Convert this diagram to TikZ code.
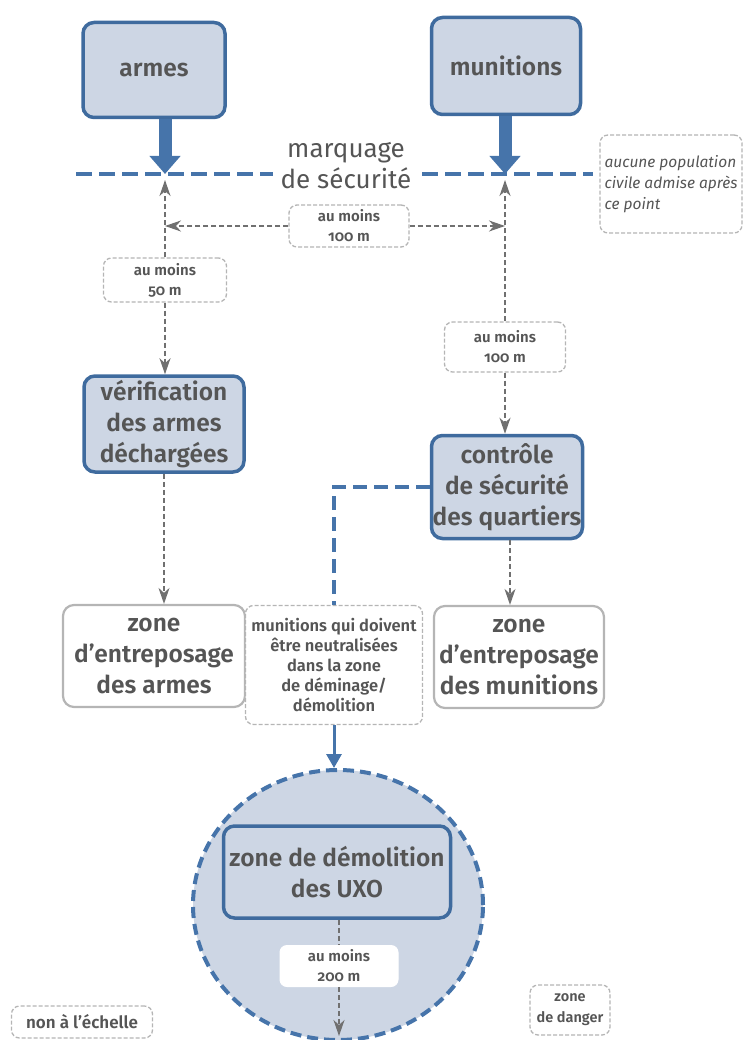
\documentclass[tikz,border=0pt]{standalone}
\usepackage{fontspec}
\setmainfont{Fira Sans}[BoldFont={* SemiBold}, Numbers=OldStyle]
\usetikzlibrary{arrows.meta,shapes.geometric}
\definecolor{boxfill}{HTML}{CDD6E4}
\definecolor{boxblue}{HTML}{3F6B9E}
\definecolor{lineblue}{HTML}{4674AA}
\definecolor{txt}{HTML}{555555}
\definecolor{arrgray}{HTML}{707070}
\definecolor{lblgray}{HTML}{B5B5B5}
\tikzset{
  bluebox/.style={draw=boxblue, line width=3.5pt, fill=boxfill, rounded corners=11pt,
    text=txt, font=\fontsize{24.5}{31}\selectfont\bfseries, align=center, inner sep=0pt},
  graybox/.style={draw=lblgray, line width=2.2pt, fill=white, rounded corners=11pt,
    text=txt, font=\fontsize{24.5}{31}\selectfont\bfseries, align=center, inner sep=0pt},
  lbl/.style={draw=lblgray, dashed, dash pattern=on 4pt off 2pt, line width=1.3pt, fill=white,
    rounded corners=8pt, text=txt, font=\fontsize{15}{20}\selectfont\bfseries, align=center,
    inner sep=0pt},
  grayarrow/.style={draw=arrgray, line width=1.6pt, dash pattern=on 5pt off 3pt,
    -{Stealth[length=16pt,width=11pt,inset=5pt,fill=arrgray]}},
  grayline/.style={draw=arrgray, line width=1.6pt, dash pattern=on 5pt off 3pt},
  thickarrow/.style={draw=lineblue, line width=13pt,
    -{Triangle[length=18pt,width=30pt,fill=lineblue]}},
  bluedash/.style={draw=lineblue, line width=4.5pt, dash pattern=on 16pt off 7pt},
}
\begin{document}
\begin{tikzpicture}[x=1pt,y=-1pt]
\useasboundingbox (0,0) rectangle (746,1040);

% danger zone around the demolition area
\node (zone) [ellipse, draw=lineblue, line width=4pt, dash pattern=on 11pt off 6pt,
  fill=boxfill, minimum width=290pt, minimum height=270pt] at (338,905) {};

% main blue boxes
\node (armes) [bluebox, minimum width=142pt, minimum height=95pt] at (154,70) {armes};
\node (munitions) [bluebox, minimum width=149pt, minimum height=97pt] at (506,66) {munitions};
\node (verif) [bluebox, minimum width=160pt, minimum height=96pt] at (164,424)
  {vérification\\des armes\\déchargées};
\node (controle) [bluebox, minimum width=151pt, minimum height=103pt] at (507,487)
  {contrôle\\de sécurité\\des quartiers};
\node (demol) [bluebox, minimum width=227pt, minimum height=92pt] at (337,872)
  {zone de démolition\\des UXO};

% storage areas
\node (zarmes) [graybox, minimum width=182pt, minimum height=102pt] at (154,656)
  {zone\\d’entreposage\\des armes};
\node (zmun) [graybox, minimum width=170pt, minimum height=102pt] at (519,657)
  {zone\\d’entreposage\\des munitions};

% safety marking line
\coordinate (A) at (165,174);
\coordinate (B) at (505,174);
\draw[bluedash] (76,174) -- (273,174);
\draw[bluedash] (422,174) -- (593,174);
\node (marq) [text=txt, font=\fontsize{26}{31}\selectfont, align=center] at (346,166)
  {marquage\\de sécurité};
\draw[thickarrow] (armes.south -| A) -- (A);
\draw[thickarrow] (munitions.south -| B) -- (B);

\node (aucune) [lbl, minimum width=142pt, minimum height=98pt, align=left,
  font=\fontsize{15.5}{21}\selectfont\itshape] at (671,184)
  {aucune population\\civile admise après\\ce point};

% distance labels
\node (l50) [lbl, minimum width=123pt, minimum height=44pt] at (165,280) {au moins\\50 m};
\node (l100a) [lbl, minimum width=120pt, minimum height=42pt] at (349,226) {au moins\\100 m};
\node (l100b) [lbl, minimum width=121pt, minimum height=50pt] at (505,347) {au moins\\100 m};

\coordinate (Aup) at (165,180);
\coordinate (Bup) at (505,180);
\coordinate (Aside) at (165,226);
\coordinate (Bside) at (505,226);
\draw[grayarrow] (l50) -- (Aup);
\draw[grayarrow] (l50) -- (verif.north -| A);
\draw[grayarrow] (l100a) -- (Aside);
\draw[grayarrow] (l100a) -- (Bside);
\draw[grayarrow] (l100b) -- (Bup);
\draw[grayarrow] (l100b) -- (controle.north -| B);

\draw[grayarrow] (verif.south) -- (zarmes.north -| verif.south);
\coordinate (C) at (510,0);
\draw[grayarrow] (controle.south -| C) -- (zmun.north -| C);

% ammunition to be destroyed
\node (munqui) [lbl, minimum width=177pt, minimum height=119pt,
  font=\fontsize{16.5}{20.2}\selectfont\bfseries] at (334,665)
  {munitions qui doivent\\être neutralisées\\dans la zone\\de déminage/\\démolition};
\draw[bluedash, line width=4pt, dash pattern=on 14pt off 7pt]
  (controle.west) -| (munqui.north);
\draw[draw=lineblue, line width=3pt, -{Triangle[length=14pt,width=15pt,fill=lineblue]}]
  (munqui.south) -- (munqui.south |- zone.north);

% distance from the demolition area
\node (l200) [draw=white, line width=1pt, fill=white, rounded corners=7pt, text=txt,
  font=\fontsize{15}{20}\selectfont\bfseries, align=center, minimum width=118pt,
  minimum height=41pt, inner sep=0pt] at (339,966) {au moins\\200 m};
\coordinate (D) at (339,1036);
\draw[grayline] (demol.south -| l200) -- (l200.north);
\draw[grayarrow] (l200.south) -- (D);

% legend notes
\node (echelle) [lbl, minimum width=141pt, minimum height=32pt,
  font=\fontsize{17}{20}\selectfont\bfseries] at (82,1022) {non à l’échelle};
\node (danger) [lbl, minimum width=80pt, minimum height=50pt,
  font=\fontsize{14.5}{21}\selectfont\bfseries] at (570,1010) {zone\\de danger};
\end{tikzpicture}
\end{document}
